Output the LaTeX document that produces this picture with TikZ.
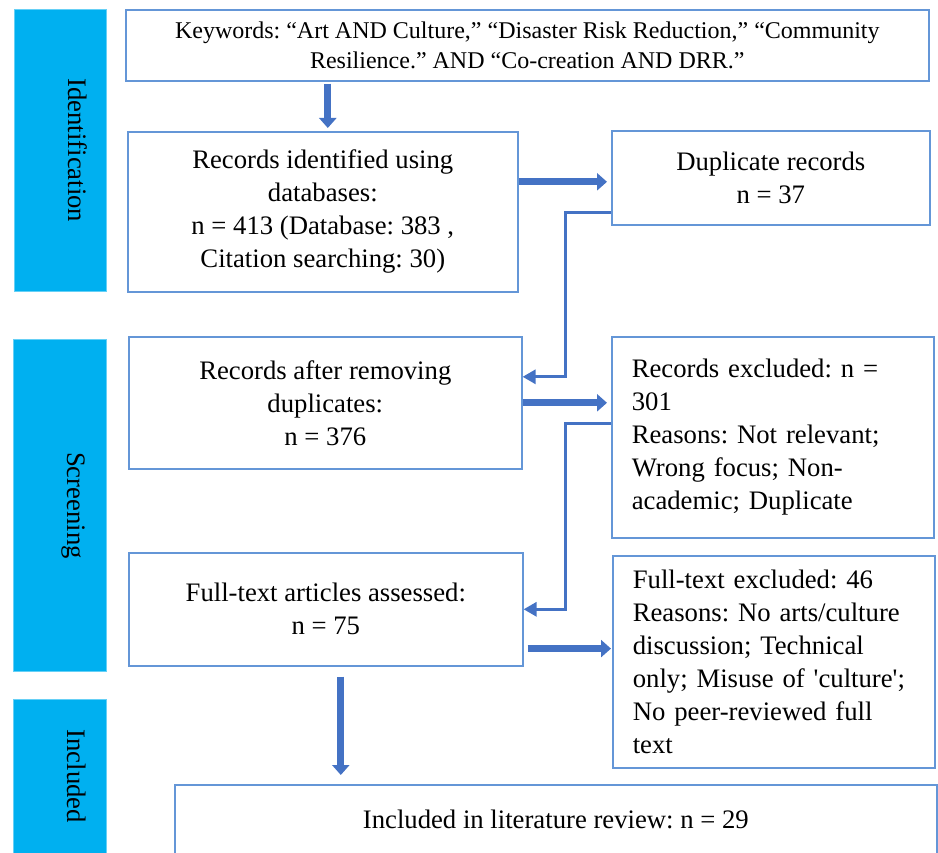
\documentclass[tikz,border=0pt]{standalone}
\usepackage{fontspec}
\setmainfont{Liberation Serif}
\usepackage{tikz}
\usetikzlibrary{positioning, arrows.meta}
\usepackage{xcolor}
\frenchspacing

\definecolor{barblue}{RGB}{0,176,240}
\definecolor{boxblue}{RGB}{100,150,215}
\definecolor{arrowblue}{RGB}{68,114,196}

\tikzset{
  phasebar/.style={rectangle, fill=barblue, draw=barblue!60!white, line width=0.8pt, inner sep=0pt, anchor=north west},
  phaselabel/.style={rotate=-90, anchor=base, inner sep=0pt},
  recbox/.style={rectangle, draw=boxblue, line width=1.6pt, inner sep=0pt, anchor=north west, align=center},
  notebox/.style={rectangle, draw=boxblue, line width=1.6pt, inner xsep=20pt, inner ysep=0pt, anchor=north west, align=left, text width=282pt, minimum width=322pt},
  bigarrow/.style={draw=arrowblue, line width=7pt, -{Triangle[length=10pt,width=17pt]}},
  elbow/.style={draw=arrowblue, line width=3pt, -{Triangle[length=13pt,width=14pt]}}
}

\begin{document}
\begin{tikzpicture}[x=1pt, y=-1pt, font=\fontsize{26.7}{33}\selectfont]
%

%help grid
%\draw[help lines, step=50] (0,0) grid (938,853);

\useasboundingbox (0,0) rectangle (938,853);
\clip (0,0) rectangle (938,853);

%%% PHASES
\node [phasebar, minimum width=92pt, minimum height=282pt] (ident) at (14,9) {};
\node [phaselabel] (ident-label) at ([xshift=8pt]ident.center) {Identification};

\node [phasebar, minimum width=93pt, minimum height=332pt] (screen) at (13,339) {};
\node [phaselabel] (screen-label) at ([xshift=8pt]screen.center) {Screening};

\node [phasebar, minimum width=93pt, minimum height=154pt] (incl) at (13,699) {};
\node [phaselabel] (incl-label) at ([xshift=8pt]incl.center) {Included};

%%% IDENTIFICATION
\node [recbox, minimum width=803pt, minimum height=71pt, font=\fontsize{24}{29.5}\selectfont] (keywords) at (125,9) {Keywords: “Art AND Culture,” “Disaster Risk Reduction,” “Community\\ Resilience.” AND “Co-creation AND DRR.”};
\node [recbox, minimum width=390pt, minimum height=160pt] (identified) at (127,131) {Records identified using\\ databases:\\ n = 413 (Database: 383 ,\\ Citation searching: 30)};
\node [recbox, minimum width=318pt, minimum height=94pt] (duplicates) at (611,130) {Duplicate records\\ n = 37};

%%% SCREENING
\node [recbox, minimum width=393pt, minimum height=132pt] (removed) at (128,336) {Records after removing\\ duplicates:\\ n = 376};
\node [notebox, minimum height=201pt] (excluded) at (611,336) {Records excluded: n =\\ 301\\ Reasons: Not relevant;\\ Wrong focus; Non-\\ academic; Duplicate};

\node [recbox, minimum width=394pt, minimum height=113pt] (fulltext) at (128,552) {Full-text articles assessed:\\ n = 75};
\node [notebox, minimum height=212pt] (ft-excluded) at (612,555) {Full-text excluded: 46\\ Reasons: No arts/culture\\ discussion; Technical\\ only; Misuse of \textquotesingle culture\textquotesingle;\\ No peer-reviewed full\\ text};

%%% INCLUDED
\node [recbox, minimum width=762pt, minimum height=70pt] (review) at (174,784) {Included in literature review: n = 29};

%%% connections, arrows

\draw [bigarrow, shorten <=2pt, shorten >=3pt] ([xshift=5pt]identified.north |- keywords.south) -- ([xshift=5pt]identified.north);
\draw [bigarrow, shorten >=4pt] ([yshift=-4pt]duplicates.west -| identified.east) -- ([yshift=-4pt]duplicates.west);
\draw [elbow] ([yshift=13pt]duplicates.south west) -- ++(-46,0) |- ([yshift=26pt]removed.east);

\draw [bigarrow, shorten >=4pt] (removed.east) -- (removed.east -| excluded.west);
\draw [elbow] ([yshift=-87pt]excluded.north west) -- ++(-46,0) |- (fulltext.east);

\draw [bigarrow, shorten <=4pt, shorten >=1pt] ([yshift=18pt]fulltext.south east) -- ([yshift=18pt]fulltext.south east -| ft-excluded.west);
\draw [bigarrow, shorten <=10pt, shorten >=9pt] ([xshift=15pt]fulltext.south) -- ([xshift=15pt]fulltext.south |- review.north);

\end{tikzpicture}
\end{document}
